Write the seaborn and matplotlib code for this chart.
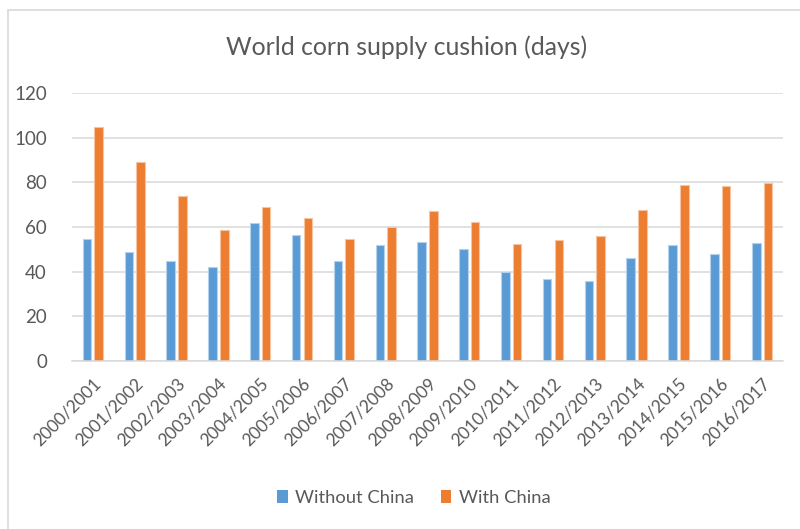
import matplotlib
matplotlib.use("Agg")
import matplotlib.pyplot as plt
from matplotlib.patches import Rectangle
import seaborn as sns
import pandas as pd

seasons = ["2000/2001", "2001/2002", "2002/2003", "2003/2004", "2004/2005",
           "2005/2006", "2006/2007", "2007/2008", "2008/2009", "2009/2010",
           "2010/2011", "2011/2012", "2012/2013", "2013/2014", "2014/2015",
           "2015/2016", "2016/2017"]
without_china = [54.5, 49, 45, 42, 62, 56.5, 45, 52, 53.5, 50,
                 40, 36.8, 35.8, 46, 52, 47.8, 53]
with_china = [105, 89, 74, 58.7, 69, 64, 54.5, 60.2, 67, 62.2,
              52.4, 54, 56, 67.6, 79, 78.2, 79.6]
series_names = ["Without China", "With China"]
colors = ["#5B9BD5", "#ED7D31"]
y_ticks = [0, 20, 40, 60, 80, 100, 120]

df = pd.DataFrame({
    "season": seasons * 2,
    "days": without_china + with_china,
    "series": [series_names[0]] * len(seasons) + [series_names[1]] * len(seasons),
})

sns.set_theme(style="white")
plt.rcParams["font.family"] = ["Lato", "DejaVu Sans"]
text_gray = "#595959"
grid_gray = "#d9d9d9"

fig = plt.figure(figsize=(8.0, 5.29), dpi=100)
fig.patch.set_facecolor("white")

# chart frame
fig.add_artist(Rectangle((8 / 800, -0.01), 1.0, 1 - 10 / 529 + 0.01,
                         transform=fig.transFigure, fill=False,
                         edgecolor=grid_gray, linewidth=1.2))

ax = fig.add_axes([72 / 800, 1 - 361 / 529, (783 - 72) / 800, (361 - 93) / 529])
sns.barplot(data=df, x="season", y="days", hue="series", palette=colors,
            saturation=1, width=0.56, gap=0.27, ax=ax, legend=True)
for patch in ax.patches:
    fc = patch.get_facecolor()
    light = tuple(c + (1 - c) * 0.55 for c in fc[:3]) + (1.0,)
    patch.set_edgecolor(light)
    patch.set_linewidth(0.8)

ax.set_ylim(0, 120)
ax.set_yticks(y_ticks)
ax.set_xlim(-0.5, len(seasons) - 0.5)
ax.yaxis.grid(True, color=grid_gray, linewidth=1.1)
ax.set_axisbelow(True)
for side in ["left", "right", "top"]:
    ax.spines[side].set_visible(False)
ax.spines["bottom"].set_color(grid_gray)
ax.spines["bottom"].set_linewidth(1.1)
ax.set_xlabel("")
ax.set_ylabel("")
ax.tick_params(axis="y", labelsize=13.5, colors=text_gray, length=0, pad=18)
ax.tick_params(axis="x", labelsize=12.5, colors=text_gray, length=0, pad=10)
for lbl in ax.get_xticklabels():
    lbl.set_rotation(45)
    lbl.set_ha("right")
    lbl.set_rotation_mode("anchor")

fig.text(407 / 800, 1 - 47 / 529, "World corn supply cushion (days)",
         ha="center", va="center", fontsize=17.8, color=text_gray)

leg = ax.legend(loc="center", bbox_to_anchor=(414 / 800, 1 - 498 / 529),
                bbox_transform=fig.transFigure, ncol=2, frameon=False,
                fontsize=13.2, handlelength=0.55, handleheight=0.75,
                handletextpad=0.4, columnspacing=1.5, labelcolor=text_gray)
for h in leg.legend_handles:
    h.set_edgecolor("none")

fig.savefig("out.png", dpi=100, facecolor="white")
